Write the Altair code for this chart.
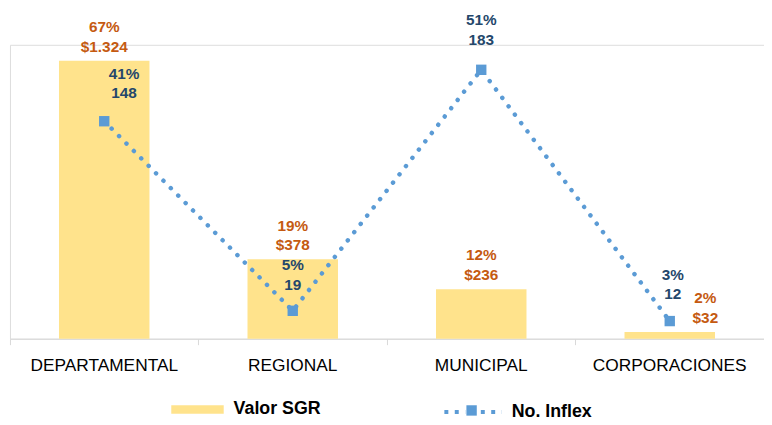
import altair as alt
import pandas as pd

categories = ["DEPARTAMENTAL", "REGIONAL", "MUNICIPAL", "CORPORACIONES"]
valor_sgr = [1324, 378, 236, 32]
valor_pct = ["67%", "19%", "12%", "2%"]
valor_txt = ["$1.324", "$378", "$236", "$32"]
inflex = [148, 19, 183, 12]
inflex_pct = ["41%", "5%", "51%", "3%"]
inflex_txt = ["148", "19", "183", "12"]

df = pd.DataFrame({
    "cat": categories,
    "valor": valor_sgr,
    "vlabel": [p + "\n" + t for p, t in zip(valor_pct, valor_txt)],
    "inflex": inflex,
    "ilabel": [p + "\n" + t for p, t in zip(inflex_pct, inflex_txt)],
    "s1": ["Valor SGR"] * 4,
    "s2": ["No. Inflex"] * 4,
    "s3": ["marker"] * 4,
})

FONT = "Liberation Sans Narrow, Arial Narrow, Liberation Sans, Arial"
YEL = "#FFE38C"
BLUE = "#5B9BD5"
ORANGE = "#C55A11"
NAVY = "#24476B"

XSCALE = alt.Scale(domain=categories, paddingInner=0, paddingOuter=0)

def xch(axis=None):
    if axis is None:
        return alt.X("cat:N", sort=categories, scale=XSCALE, title=None)
    return alt.X("cat:N", sort=categories, scale=XSCALE, title=None, axis=axis)

XAXIS = alt.Axis(labelAngle=0, domainColor="#D9D9D9", tickColor="#D9D9D9",
                 tickSize=6, bandPosition=0, labelPadding=12,
                 labelFont=FONT, labelFontSize=17.5, labelColor="#000000",
                 grid=False)

base = alt.Chart(df)

bar = base.mark_bar(width=alt.RelativeBandSize(0.48)).encode(
    x=xch(XAXIS),
    y=alt.Y("valor:Q", scale=alt.Scale(domain=[0, 1400]), axis=None),
    fill=alt.Fill("s1:N", scale=alt.Scale(domain=["Valor SGR"], range=[YEL]),
                  legend=alt.Legend(orient="none", legendX=163, legendY=342, title=None,
                                    padding=0, symbolType="M-1,-0.16H1V0.16H-1Z",
                                    symbolSize=2809, symbolStrokeWidth=0, labelOffset=10,
                                    labelFont=FONT, labelFontSize=18, labelFontWeight="bold",
                                    labelColor="#000000")),
)

def vtext(data_filter, dx):
    return base.transform_filter(data_filter).mark_text(
        font=FONT, fontSize=15.5, fontWeight="bold", color=ORANGE, baseline="bottom",
        lineBreak="\n", lineHeight=20, dy=-26, dx=dx,
    ).encode(x=xch(), y=alt.Y("valor:Q"), text="vlabel:N")

bar_txt = alt.layer(
    vtext("datum.cat != 'CORPORACIONES'", 0),
    vtext("datum.cat == 'CORPORACIONES'", 36),
)

line = base.mark_line(strokeWidth=4.5, strokeDash=[0.1, 10.5], strokeCap="round").encode(
    x=xch(),
    y=alt.Y("inflex:Q", scale=alt.Scale(domain=[0, 200]), axis=None),
    stroke=alt.Stroke("s2:N", scale=alt.Scale(domain=["No. Inflex"], range=[BLUE]),
                      legend=alt.Legend(orient="none", legendX=437, legendY=340, title=None,
                                        padding=0,
                                        symbolType="M-1,0H-0.27M0.27,0H1",
                                        symbolSize=3364, symbolStrokeWidth=4,
                                        symbolDash=[4, 6.5],
                                        labelOffset=8,
                                        labelFont=FONT, labelFontSize=18, labelFontWeight="bold",
                                        labelColor="#000000")),
)

pts = base.mark_point(shape="square", filled=True, size=110, opacity=1).encode(
    x=xch(),
    y=alt.Y("inflex:Q"),
    color=alt.Color("s3:N", scale=alt.Scale(domain=["marker"], range=[BLUE]),
                    legend=alt.Legend(orient="none", legendX=461, legendY=364, title=None,
                                      padding=0, symbolType="square", symbolSize=110,
                                      symbolStrokeWidth=0, labelExpr="''", labelFontSize=10,
                                      labelOffset=0)),
)

def itext(data_filter, dx, dy):
    return base.transform_filter(data_filter).mark_text(
        font=FONT, fontSize=15.5, fontWeight="bold", color=NAVY, baseline="bottom",
        lineBreak="\n", lineHeight=20, dy=dy, dx=dx,
    ).encode(x=xch(), y=alt.Y("inflex:Q"), text="ilabel:N")

line_txt = alt.layer(
    itext("datum.cat == 'DEPARTAMENTAL'", 20, -40),
    itext("datum.cat == 'REGIONAL'", 0, -38),
    itext("datum.cat == 'MUNICIPAL'", 0, -42),
    itext("datum.cat == 'CORPORACIONES'", 3, -39),
)

chart = alt.layer(
    alt.layer(bar, bar_txt),
    alt.layer(line, pts, line_txt),
).resolve_scale(y="independent", fill="independent", stroke="independent",
                color="independent").properties(
    width=762, height=297,
    padding={"left": 2, "top": 35, "right": 0, "bottom": 85},
    autosize=alt.AutoSizeParams(type="none"),
).configure_view(stroke=None).configure(background="white")

chart.save("out.html", embed_options={"renderer": "svg", "actions": False})
